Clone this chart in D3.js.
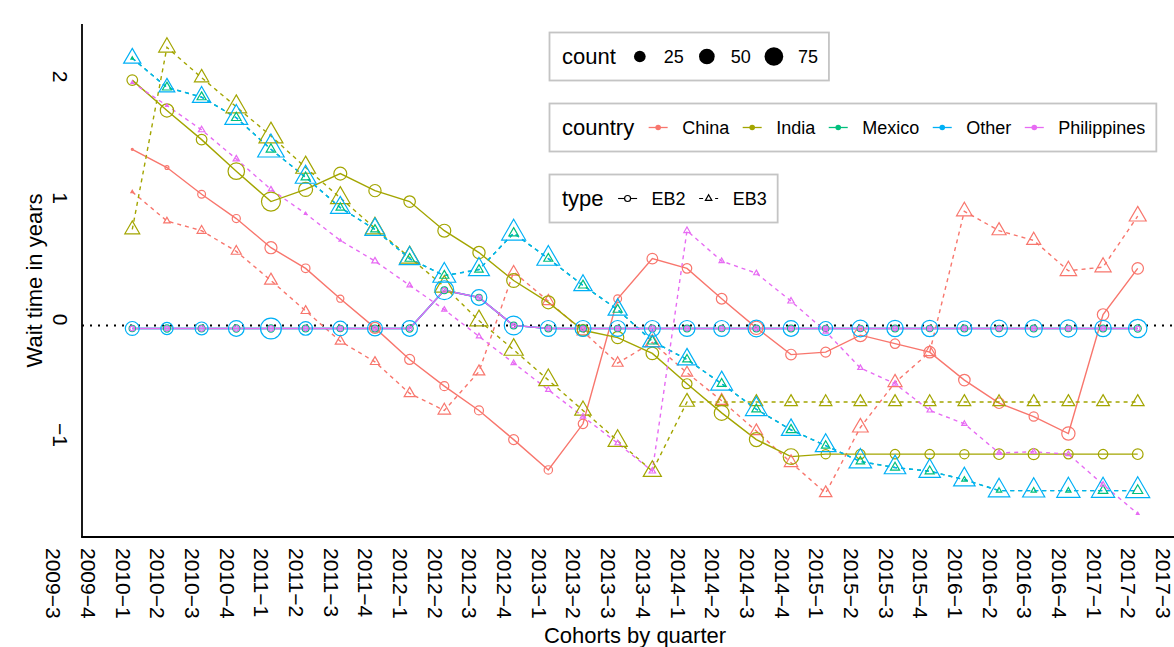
<!DOCTYPE html>
<meta charset="utf-8">
<script src="https://cdn.jsdelivr.net/npm/d3@7"></script>
<style>
body { margin: 0; background: #fff; }
text { font-family: "Liberation Sans", Arial, sans-serif; fill: #000; }
.line { fill: none; stroke-width: 1.4px; }
.pt { fill: none; stroke-width: 1.2px; }
.legbox { fill: #fff; stroke: #c4c4c4; stroke-width: 1.8px; }
</style>
<body>
<script>

// tick labels on the x axis (quarters)
var tickLabels = ["2009-3","2009-4","2010-1","2010-2","2010-3","2010-4","2011-1","2011-2","2011-3","2011-4",
  "2012-1","2012-2","2012-3","2012-4","2013-1","2013-2","2013-3","2013-4","2014-1","2014-2","2014-3","2014-4",
  "2015-1","2015-2","2015-3","2015-4","2016-1","2016-2","2016-3","2016-4","2017-1","2017-2","2017-3"];

// cohorts that carry data
var cohorts = ["2010-1","2010-2","2010-3","2010-4","2011-1","2011-2","2011-3","2011-4","2012-1","2012-2",
  "2012-3","2012-4","2013-1","2013-2","2013-3","2013-4","2014-1","2014-2","2014-3","2014-4",
  "2015-1","2015-2","2015-3","2015-4","2016-1","2016-2","2016-3","2016-4","2017-1","2017-2"];

var countries = ["China", "India", "Mexico", "Other", "Philippines"];
var types = ["EB2", "EB3"];
var yTicks = [-1, 0, 1, 2];
var countBreaks = [25, 50, 75];

// wait time in years, and counts
var chinaEB2 = [1.45,1.30,1.08,0.88,0.64,0.47,0.22,-0.02,-0.28,-0.50,-0.70,-0.94,-1.19,-0.81,0.22,0.55,0.47,0.22,-0.02,-0.24,-0.22,-0.08,-0.15,-0.22,-0.45,-0.64,-0.75,-0.89,0.09,0.47];
var chinaEB2Count = [0,1,9,10,27,12,7,22,17,13,13,17,11,15,9,20,15,20,34,20,17,32,15,24,24,20,14,34,24,24];
var chinaEB3 = [1.10,0.86,0.78,0.61,0.37,0.12,-0.13,-0.30,-0.56,-0.70,-0.38,0.44,0.20,-0.05,-0.31,-0.14,-0.39,-0.62,-0.87,-1.13,-1.38,-0.84,-0.47,-0.22,0.94,0.78,0.70,0.45,0.48,0.90];
var chinaEB3Count = [0,2,6,8,15,6,8,6,10,14,12,11,12,12,10,19,11,14,14,17,14,25,19,12,25,19,19,28,27,30];

var indiaEB2 = [2.02,1.77,1.53,1.27,1.02,1.12,1.25,1.11,1.02,0.78,0.60,0.37,0.19,-0.04,-0.10,-0.23,-0.48,-0.72,-0.94,-1.08,-1.06,-1.06,-1.06,-1.06,-1.06,-1.06,-1.06,-1.06,-1.06,-1.06];
var indiaEB2Count = [20,34,20,56,77,38,32,28,24,32,28,38,32,24,28,30,17,44,38,50,14,15,15,15,14,20,22,15,15,20];
var indiaEB3 = [0.79,2.29,2.04,1.80,1.56,1.30,1.05,0.80,0.56,0.32,0.04,-0.20,-0.45,-0.70,-0.95,-1.20,-0.63,-0.63,-0.63,-0.63,-0.63,-0.63,-0.63,-0.63,-0.63,-0.63,-0.63,-0.63,-0.63,-0.63];
var indiaEB3Count = [22,28,20,48,67,43,42,40,42,40,35,40,40,28,40,35,22,14,15,15,14,15,15,14,15,14,15,15,15,15];

var mexicoEB2 = [-0.025,-0.025,-0.025,-0.025,-0.025,-0.025,-0.025,-0.025,-0.025,0.29,0.23,0.0,-0.025,-0.025,-0.025,-0.025,-0.025,-0.025,-0.025,-0.025,-0.025,-0.025,-0.025,-0.025,-0.025,-0.025,-0.025,-0.025,-0.025,-0.025];
var mexicoEB2Count = [5,7,6,7,7,6,5,6,7,6,5,6,6,6,5,6,6,5,6,6,5,5,6,5,6,5,6,5,6,7];
var mexicoEB3 = [2.20,1.96,1.88,1.71,1.45,1.22,0.97,0.79,0.55,0.41,0.46,0.76,0.55,0.33,0.13,-0.13,-0.28,-0.48,-0.69,-0.86,-0.99,-1.12,-1.17,-1.20,-1.27,-1.36,-1.36,-1.36,-1.36,-1.36];
var mexicoEB3Count = [0,6,6,7,7,6,5,5,6,6,5,7,6,6,6,7,5,6,6,7,5,5,6,6,1,1,1,1,7,8];

var otherEB2 = [-0.025,-0.025,-0.025,-0.025,-0.025,-0.025,-0.025,-0.025,-0.025,0.29,0.23,0.0,-0.025,-0.025,-0.025,-0.025,-0.025,-0.025,-0.025,-0.025,-0.025,-0.025,-0.025,-0.025,-0.025,-0.025,-0.025,-0.025,-0.025,-0.025];
var otherEB2Count = [38,28,32,50,94,36,42,45,50,77,50,75,52,52,52,52,52,52,58,50,38,58,55,55,45,58,62,62,55,72];
var otherEB3 = [2.20,1.96,1.88,1.71,1.45,1.22,0.97,0.79,0.55,0.41,0.46,0.76,0.55,0.33,0.13,-0.13,-0.28,-0.48,-0.69,-0.86,-0.99,-1.12,-1.17,-1.20,-1.27,-1.36,-1.36,-1.36,-1.36,-1.36];
var otherEB3Count = [31,25,36,60,84,48,42,45,49,60,49,67,60,36,40,42,40,54,54,40,48,58,52,52,52,52,56,62,62,67];

var philEB2 = [-0.025,-0.025,-0.025,-0.025,-0.025,-0.025,-0.025,-0.025,-0.025,0.29,0.23,0.0,-0.025,-0.025,-0.025,-0.025,-0.025,-0.025,-0.025,-0.025,-0.025,-0.025,-0.025,-0.025,-0.025,-0.025,-0.025,-0.025,-0.025,-0.025];
var philEB2Count = [2,2,3,3,3,2,2,2,2,2,2,2,2,2,2,3,2,2,2,2,2,2,2,2,2,2,2,2,2,2];
var philEB3 = [2.00,1.81,1.61,1.37,1.12,0.92,0.70,0.53,0.33,0.13,-0.09,-0.31,-0.53,-0.75,-0.97,-1.20,0.78,0.53,0.43,0.20,-0.05,-0.35,-0.48,-0.70,-0.81,-1.05,-1.04,-1.06,-1.31,-1.55];
var philEB3Count = [0,0,2,2,1,0,0,2,1,1,1,1,1,1,1,2,2,1,1,2,1,1,1,1,1,1,1,1,1,0];

var series = [
  {country: "China", type: "EB2", wait: chinaEB2, count: chinaEB2Count},
  {country: "China", type: "EB3", wait: chinaEB3, count: chinaEB3Count},
  {country: "India", type: "EB2", wait: indiaEB2, count: indiaEB2Count},
  {country: "India", type: "EB3", wait: indiaEB3, count: indiaEB3Count},
  {country: "Mexico", type: "EB2", wait: mexicoEB2, count: mexicoEB2Count},
  {country: "Mexico", type: "EB3", wait: mexicoEB3, count: mexicoEB3Count},
  {country: "Other", type: "EB2", wait: otherEB2, count: otherEB2Count},
  {country: "Other", type: "EB3", wait: otherEB3, count: otherEB3Count},
  {country: "Philippines", type: "EB2", wait: philEB2, count: philEB2Count},
  {country: "Philippines", type: "EB3", wait: philEB3, count: philEB3Count}
];
series.forEach(function(s) {
  s.values = cohorts.map(function(c, i) {
    return {q: c, v: s.wait[i], n: s.count[i]};
  });
});

// layout
var W = 1174, H = 647;
var panel = {left: 82, right: 1188, top: 24, bottom: 537};

var svg = d3.select("body").append("svg")
    .attr("width", W)
    .attr("height", H);

// scales
var lo = tickLabels.indexOf(cohorts[0]), hi = tickLabels.indexOf(cohorts[cohorts.length - 1]);
var xpad = (hi - lo) * 0.05;
var x = d3.scaleLinear().domain([lo - xpad, hi + xpad]).range([panel.left, panel.right]);
function xq(q) { return x(tickLabels.indexOf(q)); }

var allV = [];
series.forEach(function(s) { s.wait.forEach(function(v) { if (v != null) allV.push(v); }); });
var ext = d3.extent(allV), ypad = (ext[1] - ext[0]) * 0.05;
var y = d3.scaleLinear().domain([ext[0] - ypad, ext[1] + ypad]).range([panel.bottom, panel.top]);

var r = d3.scaleSqrt().domain([0, 100]).range([1, 10.66]);
var color = d3.scaleOrdinal().domain(countries).range(["#F8766D", "#A3A500", "#00BF7D", "#00B0F6", "#E76BF3"]);
var dash = {EB2: null, EB3: "4,4"};

// R-style open triangle, same area as the circle
function tri(R) {
  return "M0," + (-1.555 * R) + "L" + (1.3468 * R) + "," + (0.7776 * R) + "L" + (-1.3468 * R) + "," + (0.7776 * R) + "Z";
}
function minus(s) { return String(s).replace("-", "\u2212"); }

// zero reference line
svg.append("line")
    .attr("x1", panel.left).attr("x2", W)
    .attr("y1", y(0)).attr("y2", y(0))
    .style("stroke", "#000")
    .style("stroke-width", 2)
    .style("stroke-dasharray", "2,6");

// lines
var line = d3.line()
    .defined(function(d) { return d.v != null; })
    .x(function(d) { return xq(d.q); })
    .y(function(d) { return y(d.v); });

series.forEach(function(s) {
  svg.append("path")
      .datum(s.values)
      .attr("class", "line")
      .style("stroke", color(s.country))
      .style("stroke-dasharray", dash[s.type])
      .attr("d", line);
});

// points
series.forEach(function(s) {
  var pts = s.values.filter(function(d) { return d.v != null; });
  if (s.type === "EB2") {
    svg.selectAll(null).data(pts).enter().append("circle")
        .attr("class", "pt")
        .attr("cx", function(d) { return xq(d.q); })
        .attr("cy", function(d) { return y(d.v); })
        .attr("r", function(d) { return r(d.n); })
        .style("stroke", color(s.country));
  } else {
    svg.selectAll(null).data(pts).enter().append("path")
        .attr("class", "pt")
        .attr("transform", function(d) { return "translate(" + xq(d.q) + "," + y(d.v) + ")"; })
        .attr("d", function(d) { return tri(r(d.n)); })
        .style("stroke", color(s.country));
  }
});

// axes
svg.append("line")
    .attr("x1", panel.left).attr("x2", panel.left)
    .attr("y1", panel.top).attr("y2", panel.bottom)
    .style("stroke", "#000").style("stroke-width", 1.8);
svg.append("line")
    .attr("x1", panel.left - 0.9).attr("x2", W)
    .attr("y1", panel.bottom).attr("y2", panel.bottom)
    .style("stroke", "#000").style("stroke-width", 1.8);

svg.selectAll(".ylab").data(yTicks).enter().append("text")
    .attr("class", "ylab")
    .attr("transform", function(d) { return "translate(53," + y(d) + ") rotate(90)"; })
    .attr("text-anchor", "end")
    .style("font-size", "21px")
    .text(function(d) { return minus(d); });

svg.selectAll(".xlab").data(tickLabels).enter().append("text")
    .attr("class", "xlab")
    .attr("transform", function(d, i) { return "translate(" + (x(i) - 16.5) + ",548) rotate(90)"; })
    .style("font-size", "21px")
    .text(function(d) { return d.replace("-", "\u2212"); });

svg.append("text")
    .attr("x", (panel.left + panel.right) / 2)
    .attr("y", 643)
    .attr("text-anchor", "middle")
    .style("font-size", "22px")
    .text("Cohorts by quarter");

svg.append("text")
    .attr("transform", "translate(42," + ((panel.top + panel.bottom) / 2) + ") rotate(-90)")
    .attr("text-anchor", "middle")
    .style("font-size", "22px")
    .text("Wait time in years");

// legends
function legend(top, title, items, drawKey) {
  var g = svg.append("g");
  var box = g.append("rect").attr("class", "legbox").attr("x", 549.5).attr("y", top).attr("height", 48);
  var cy = top + 24;
  var t = g.append("text").attr("x", 562).attr("y", cy + 7.5).style("font-size", "22px").text(title);
  var xpos = 562 + t.node().getComputedTextLength() + 14;
  items.forEach(function(it) {
    var cx = xpos + 10;
    drawKey(g, it, cx, cy);
    var lab = g.append("text").attr("x", cx + 24).attr("y", cy + 6.3).style("font-size", "18px").text(it);
    xpos = cx + 24 + lab.node().getComputedTextLength() + 13;
  });
  box.attr("width", xpos - 2 - 549.5);
}

legend(32.5, "count", countBreaks, function(g, d, cx, cy) {
  g.append("circle").attr("cx", cx).attr("cy", cy).attr("r", r(d)).style("fill", "#000");
});

legend(103.5, "country", countries, function(g, d, cx, cy) {
  g.append("line").attr("x1", cx - 9.5).attr("x2", cx + 9.5).attr("y1", cy).attr("y2", cy)
      .style("stroke", color(d)).style("stroke-width", 1.3);
  g.append("circle").attr("cx", cx).attr("cy", cy).attr("r", 2.8).style("fill", color(d));
});

legend(174.5, "type", types, function(g, d, cx, cy) {
  g.append("line").attr("x1", cx - 9.5).attr("x2", cx + 9.5).attr("y1", cy).attr("y2", cy)
      .style("stroke", "#000").style("stroke-width", 1.1).style("stroke-dasharray", dash[d]);
  if (d === "EB2") {
    g.append("circle").attr("cx", cx).attr("cy", cy).attr("r", 3).attr("class", "pt").style("stroke", "#000").style("fill", "#fff");
  } else {
    g.append("path").attr("transform", "translate(" + cx + "," + cy + ")").attr("d", tri(2.4))
        .attr("class", "pt").style("stroke", "#000").style("fill", "#fff");
  }
});

</script>
</body>
